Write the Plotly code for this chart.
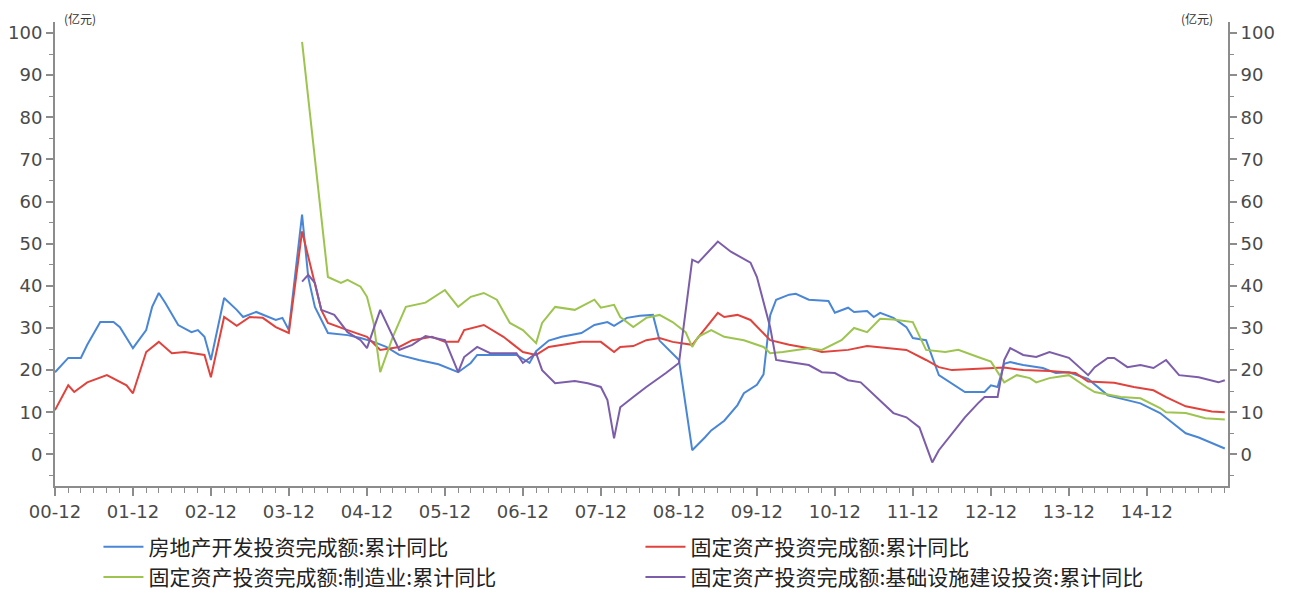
import plotly.graph_objects as go

# ---------------- data ----------------
re_dates = ["2000-12","2001-02","2001-04","2001-05","2001-07","2001-09","2001-10","2001-12",
            "2002-02","2002-03","2002-04","2002-05","2002-07","2002-09","2002-10","2002-11","2002-12",
            "2003-02","2003-04","2003-05","2003-07","2003-08","2003-10","2003-11","2003-12",
            "2004-02","2004-03","2004-04","2004-06","2004-09","2004-11",
            "2005-01","2005-03","2005-05","2005-08","2005-11",
            "2006-02","2006-04","2006-05","2006-08","2006-11",
            "2007-01","2007-02","2007-04","2007-06","2007-09","2007-11",
            "2008-01","2008-02","2008-04","2008-06","2008-08","2008-09","2008-12",
            "2009-02","2009-04","2009-05","2009-07","2009-09","2009-10","2009-12",
            "2010-01","2010-02","2010-03","2010-05","2010-06","2010-08","2010-11","2010-12",
            "2011-02","2011-03","2011-05","2011-06","2011-07","2011-09","2011-11","2011-12",
            "2012-02","2012-03","2012-04","2012-08","2012-11","2012-12",
            "2013-01","2013-02","2013-03","2013-05","2013-08","2013-10","2013-12",
            "2014-03","2014-06","2014-11",
            "2015-02","2015-06","2015-08","2015-12"]
re_values = [19.5,22.9,22.9,26.0,31.4,31.4,30.2,25.2,
             29.5,35.0,38.3,36.0,30.7,29.0,29.5,27.9,22.4,
             37.1,34.3,32.6,33.8,33.1,31.9,32.4,29.5,
             56.9,42.0,35.0,28.8,28.3,27.6,
             26.7,25.5,23.6,22.4,21.4,
             19.5,21.7,23.6,23.6,23.6,
             21.7,24.5,27.0,27.9,28.8,30.7,
             31.4,30.5,32.4,32.9,33.1,27.0,22.4,
             1.0,4.0,5.7,8.0,11.7,14.5,16.5,
             19.0,33.0,36.7,37.9,38.1,36.7,36.4,33.6,
             34.8,33.8,34.0,32.6,33.6,32.4,30.2,27.6,
             27.1,23.1,18.8,14.8,14.8,16.4,
             16.0,21.5,21.9,21.2,20.5,19.3,19.5,
             17.9,14.0,12.1,
             9.8,5.0,4.0,1.4]

fai_dates = ["2000-12","2001-02","2001-03","2001-05","2001-08","2001-11","2001-12",
             "2002-02","2002-04","2002-06","2002-08","2002-11","2002-12",
             "2003-02","2003-04","2003-06","2003-08","2003-10","2003-12",
             "2004-02","2004-05","2004-06","2004-09","2004-12",
             "2005-02","2005-05","2005-07","2005-10","2005-12",
             "2006-02","2006-03","2006-06","2006-09","2006-12",
             "2007-02","2007-04","2007-09","2007-12",
             "2008-02","2008-03","2008-05","2008-07","2008-09","2008-11",
             "2009-02","2009-06","2009-07","2009-09","2009-11",
             "2010-02","2010-05","2010-08","2010-10",
             "2011-02","2011-05","2011-08","2011-11",
             "2012-02","2012-04","2012-06","2012-09",
             "2013-02","2013-05","2013-09",
             "2014-01","2014-03","2014-07","2014-10",
             "2015-01","2015-03","2015-06","2015-08","2015-10","2015-12"]
fai_values = [10.5,16.4,14.8,17.1,18.8,16.4,14.5,
              24.3,26.7,24.0,24.3,23.6,18.3,
              32.6,30.5,32.6,32.4,30.2,28.8,
              52.9,34.3,31.2,29.5,27.9,
              24.8,25.5,27.1,27.9,26.7,
              26.7,29.5,30.7,27.9,24.3,
              23.6,25.5,26.7,26.7,
              24.3,25.5,25.7,27.1,27.6,26.7,
              26.0,33.6,32.6,33.1,31.9,
              27.1,26.0,25.2,24.3,
              24.8,25.7,25.2,24.8,
              22.4,20.7,20.0,20.2,
              20.6,20.0,19.8,
              19.3,17.3,17.0,16.0,
              15.2,13.6,11.4,10.8,10.2,10.0]

mfg_dates = ["2004-02","2004-06","2004-08","2004-09","2004-11","2004-12",
             "2005-01","2005-02","2005-04","2005-06","2005-09","2005-12",
             "2006-02","2006-04","2006-06","2006-08","2006-10","2006-12",
             "2007-02","2007-03","2007-05","2007-08","2007-11","2007-12",
             "2008-02","2008-03","2008-05","2008-07","2008-09","2008-11",
             "2009-01","2009-02","2009-03","2009-05","2009-07","2009-10",
             "2010-01","2010-02","2010-04","2010-08","2010-10",
             "2011-01","2011-03","2011-05","2011-07","2011-09","2011-12",
             "2012-02","2012-05","2012-07","2012-10","2012-12",
             "2013-02","2013-04","2013-06","2013-07","2013-09","2013-12",
             "2014-03","2014-04","2014-08","2014-11",
             "2015-02","2015-03","2015-06","2015-09","2015-12"]
mfg_values = [97.9,42.1,40.7,41.4,39.8,37.4,
              31.2,19.5,27.9,35.0,36.0,39.0,
              35.0,37.4,38.3,36.7,31.2,29.5,
              26.4,31.2,35.0,34.3,36.7,34.8,
              35.5,32.6,30.2,32.4,33.1,31.4,
              29.0,25.5,27.9,29.5,27.9,27.1,
              25.5,24.0,24.3,25.2,24.8,
              27.1,30.0,29.0,32.2,32.0,31.4,
              24.8,24.3,24.8,23.1,22.0,
              17.1,18.8,18.1,17.1,18.1,18.8,
              15.7,14.8,13.6,13.3,
              11.0,10.0,9.8,8.6,8.3]

infra_dates = ["2004-02","2004-03","2004-04","2004-05","2004-07","2004-09","2004-11","2004-12",
               "2005-02","2005-05","2005-07","2005-09","2005-12",
               "2006-02","2006-03","2006-05","2006-07","2006-11","2006-12",
               "2007-02","2007-03","2007-05","2007-08","2007-10","2007-12",
               "2008-01","2008-02","2008-03","2008-05","2008-07","2008-10","2008-12",
               "2009-02","2009-03","2009-06","2009-08","2009-11","2009-12",
               "2010-02","2010-03","2010-05","2010-08","2010-10","2010-12",
               "2011-02","2011-04","2011-09","2011-11",
               "2012-01","2012-03","2012-04","2012-06","2012-08","2012-10","2012-11",
               "2013-01","2013-02","2013-03","2013-05","2013-07","2013-09","2013-12",
               "2014-02","2014-03","2014-04","2014-06","2014-07","2014-09","2014-11",
               "2015-01","2015-03","2015-05","2015-08","2015-11","2015-12"]
infra_values = [41.0,42.6,40.7,34.3,33.1,29.0,27.1,25.2,
                34.3,24.8,26.0,28.1,27.1,
                19.5,23.1,25.5,24.0,24.0,21.7,
                24.0,20.0,16.9,17.4,16.9,16.0,
                12.9,3.8,11.2,13.6,16.0,19.3,21.7,
                46.2,45.5,50.5,48.1,45.5,42.1,
                30.2,22.4,21.9,21.2,19.5,19.3,
                17.6,17.1,9.8,8.8,
                6.4,-1.9,1.0,5.0,8.8,12.1,13.6,
                13.6,22.4,25.2,23.6,23.1,24.3,22.9,
                20.0,18.8,20.7,22.9,22.9,20.7,21.2,
                20.5,22.4,18.8,18.3,17.1,17.6]

series_names = ["房地产开发投资完成额:累计同比",
                "固定资产投资完成额:累计同比",
                "固定资产投资完成额:制造业:累计同比",
                "固定资产投资完成额:基础设施建设投资:累计同比"]
series_colors = ["#4A86D6", "#E0433D", "#9DC44F", "#7B5DAA"]

tick_dates = ["2000-12-01","2001-12-01","2002-12-01","2003-12-01","2004-12-01",
              "2005-12-01","2006-12-01","2007-12-01","2008-12-01","2009-12-01",
              "2010-12-01","2011-12-01","2012-12-01","2013-12-01","2014-12-01"]
tick_text = ["00-12","01-12","02-12","03-12","04-12","05-12","06-12","07-12",
             "08-12","09-12","10-12","11-12","12-12","13-12","14-12"]
y_ticks = [0, 10, 20, 30, 40, 50, 60, 70, 80, 90, 100]
unit_label = "(亿元)"

# ---------------- figure ----------------
fig = go.Figure()
all_x = [re_dates, fai_dates, mfg_dates, infra_dates]
all_y = [re_values, fai_values, mfg_values, infra_values]
for name, color, xs, ys in zip(series_names, series_colors, all_x, all_y):
    fig.add_trace(go.Scatter(x=xs, y=ys, mode="lines", name=name,
                             line=dict(color=color, width=2)))

# invisible trace so that the right-hand axis is drawn
fig.add_trace(go.Scatter(x=[re_dates[0]], y=[re_values[0]], yaxis="y2",
                         mode="lines", line=dict(width=0), showlegend=False,
                         hoverinfo="skip"))

axis_color = "#8C8C8C"
tick_font = dict(family="DejaVu Sans, sans-serif", size=18, color="#4A4A4A")
yrange = [-7.5, 102.6]

# page body adds an 8px margin, so the figure is 8px smaller in each direction
fig.update_layout(
    width=1283, height=584,
    margin=dict(l=47, r=63, t=14, b=106, autoexpand=False),
    paper_bgcolor="white", plot_bgcolor="white",
    showlegend=True,
    legend=dict(orientation="h", xref="container", yref="container",
                x=0.0705, xanchor="left", y=0.112, yanchor="top",
                entrywidth=487, entrywidthmode="pixels",
                font=dict(family="Noto Sans CJK SC", size=21, color="#222222"),
                tracegroupgap=0, itemwidth=40, bgcolor="rgba(0,0,0,0)"),
    xaxis=dict(type="date", range=["2000-12-01", "2015-12-16"],
               tickvals=tick_dates, ticktext=tick_text, automargin=False,
               ticks="outside", ticklen=8, tickwidth=1.5, tickcolor=axis_color,
               showline=True, linecolor=axis_color, linewidth=2,
               showgrid=False, zeroline=False, tickfont=tick_font,
               minor=dict(dtick="M2", tick0="2000-12-01", ticks="outside",
                          ticklen=5, tickwidth=1.2, tickcolor=axis_color, showgrid=False)),
    yaxis=dict(range=yrange, tickvals=y_ticks, ticks="outside", ticklen=7,
               automargin=False,
               tickwidth=1.5, tickcolor=axis_color, showline=True,
               linecolor=axis_color, linewidth=2, showgrid=False, zeroline=False,
               tickfont=tick_font,
               minor=dict(dtick=5, tick0=0, ticks="outside", ticklen=4,
                          tickwidth=1.2, tickcolor=axis_color, showgrid=False)),
    yaxis2=dict(range=yrange, overlaying="y", side="right", tickvals=y_ticks,
                automargin=False,
                ticks="outside", ticklen=7, tickwidth=1.5, tickcolor=axis_color,
                showline=True, linecolor=axis_color, linewidth=2, showgrid=False,
                zeroline=False, tickfont=tick_font,
                minor=dict(dtick=5, tick0=0, ticks="outside", ticklen=4,
                           tickwidth=1.2, tickcolor=axis_color, showgrid=False)),
    annotations=[
        dict(text=unit_label, xref="paper", yref="paper", x=0.006, y=1.0086,
             xanchor="left", yanchor="middle", showarrow=False,
             font=dict(family="Noto Sans CJK SC", size=12, color="#333333")),
        dict(text=unit_label, xref="paper", yref="paper", x=0.989, y=1.0086,
             xanchor="right", yanchor="middle", showarrow=False,
             font=dict(family="Noto Sans CJK SC", size=12, color="#333333")),
    ],
)

fig.write_html("out.html")
